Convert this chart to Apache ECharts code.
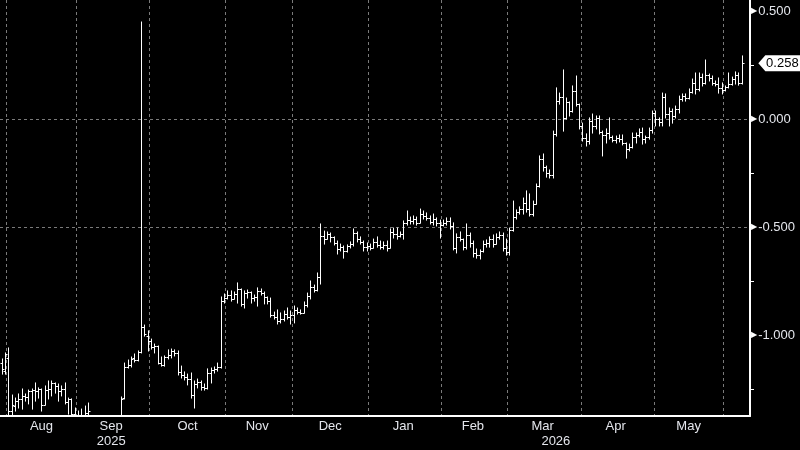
<!DOCTYPE html>
<html lang="en">
<head>
<meta charset="utf-8">
<title>OHLC spread</title>
<script src="https://cdn.jsdelivr.net/npm/echarts@6/dist/echarts.min.js"></script>
<style>
  html, body { margin: 0; padding: 0; background: #000; }
  #main { width: 800px; height: 450px; }
</style>
</head>
<body>
<div id="main"></div>
<script>
// trading-day slots (weekdays) starting here
var firstDay = '2025-07-30';
var slotCount = 226;
var monthNames = ['Jan', 'Feb', 'Mar', 'Apr', 'May', 'Jun', 'Jul', 'Aug', 'Sep', 'Oct', 'Nov', 'Dec'];
// year captions, keyed by slot index
var yearLabels = { 33: '2025', 167: '2026' };
var yMajorLabels = [-1, -0.5, 0, 0.5];

// [open, high, low, close], one per trading day
var ohlc = [
  [-1.130,-1.111,-1.181,-1.157],[-1.167,-1.083,-1.181,-1.088],[-1.106,-1.060,-1.380,-1.352],[-1.352,-1.278,-1.380,-1.324],
  [-1.329,-1.292,-1.352,-1.306],[-1.306,-1.273,-1.338,-1.296],[-1.296,-1.250,-1.343,-1.282],[-1.282,-1.273,-1.306,-1.287],
  [-1.287,-1.255,-1.319,-1.259],[-1.259,-1.250,-1.343,-1.255],[-1.255,-1.222,-1.306,-1.259],[-1.259,-1.245,-1.292,-1.250],
  [-1.250,-1.250,-1.352,-1.324],[-1.324,-1.236,-1.324,-1.255],[-1.255,-1.213,-1.296,-1.250],[-1.250,-1.213,-1.282,-1.222],
  [-1.222,-1.222,-1.269,-1.236],[-1.236,-1.227,-1.306,-1.259],[-1.259,-1.236,-1.282,-1.250],[-1.250,-1.222,-1.319,-1.310],
  [-1.310,-1.292,-1.366,-1.296],[-1.296,-1.296,-1.375,-1.366],[-1.366,-1.338,-1.380,-1.370],[-1.370,-1.352,-1.384,-1.380],
  [-1.380,-1.343,-1.384,-1.375],[-1.375,-1.329,-1.384,-1.361],[-1.361,-1.315,-1.384,-1.352],
  [-1.400,-1.392,-1.480,-1.450],[-1.450,-1.420,-1.530,-1.510],[-1.510,-1.470,-1.560,-1.490],[-1.490,-1.460,-1.550,-1.530],
  [-1.530,-1.480,-1.580,-1.500],[-1.500,-1.450,-1.540,-1.470],[-1.470,-1.430,-1.520,-1.480],[-1.480,-1.420,-1.510,-1.440],
  [-1.440,-1.400,-1.490,-1.420],
  [-1.398,-1.287,-1.410,-1.296],[-1.292,-1.130,-1.296,-1.148],[-1.148,-1.116,-1.153,-1.139],[-1.139,-1.102,-1.148,-1.111],
  [-1.106,-1.088,-1.125,-1.116],[-1.116,-1.074,-1.120,-1.079],[-1.079,0.449,-1.083,-0.963],[-0.963,-0.954,-1.005,-0.995],
  [-1.005,-0.981,-1.074,-1.028],[-1.028,-1.019,-1.065,-1.056],[-1.056,-1.042,-1.083,-1.051],[-1.051,-1.051,-1.134,-1.130],
  [-1.130,-1.102,-1.144,-1.139],[-1.139,-1.097,-1.144,-1.102],[-1.102,-1.069,-1.111,-1.093],[-1.093,-1.065,-1.106,-1.074],
  [-1.074,-1.069,-1.097,-1.083],[-1.083,-1.074,-1.185,-1.171],[-1.171,-1.144,-1.199,-1.185],[-1.185,-1.171,-1.208,-1.194],
  [-1.194,-1.181,-1.231,-1.204],[-1.204,-1.176,-1.292,-1.278],[-1.278,-1.213,-1.338,-1.227],[-1.227,-1.204,-1.245,-1.218],
  [-1.218,-1.213,-1.255,-1.241],[-1.241,-1.227,-1.255,-1.245],[-1.245,-1.157,-1.250,-1.176],[-1.176,-1.153,-1.222,-1.162],
  [-1.162,-1.148,-1.176,-1.157],[-1.157,-1.130,-1.167,-1.148],[-1.148,-0.824,-1.153,-0.843],[-0.843,-0.810,-0.852,-0.829],
  [-0.829,-0.796,-0.833,-0.815],[-0.815,-0.796,-0.843,-0.833],[-0.833,-0.801,-0.833,-0.810],[-0.810,-0.759,-0.852,-0.787],
  [-0.787,-0.787,-0.866,-0.856],[-0.856,-0.796,-0.875,-0.806],[-0.806,-0.792,-0.829,-0.801],[-0.801,-0.801,-0.852,-0.829],
  [-0.829,-0.815,-0.843,-0.824],[-0.824,-0.782,-0.866,-0.796],[-0.796,-0.787,-0.815,-0.806],[-0.806,-0.801,-0.856,-0.824],
  [-0.824,-0.824,-0.856,-0.843],[-0.843,-0.829,-0.917,-0.907],[-0.907,-0.894,-0.926,-0.917],[-0.917,-0.884,-0.949,-0.935],
  [-0.935,-0.898,-0.944,-0.926],[-0.926,-0.889,-0.935,-0.903],[-0.903,-0.875,-0.926,-0.917],[-0.917,-0.889,-0.949,-0.907],
  [-0.907,-0.866,-0.944,-0.884],[-0.884,-0.875,-0.903,-0.894],[-0.894,-0.884,-0.903,-0.898],[-0.898,-0.847,-0.898,-0.861],
  [-0.861,-0.806,-0.870,-0.819],[-0.819,-0.750,-0.833,-0.778],[-0.778,-0.769,-0.801,-0.792],[-0.792,-0.713,-0.796,-0.731],
  [-0.731,-0.486,-0.764,-0.542],[-0.542,-0.519,-0.579,-0.556],[-0.556,-0.523,-0.556,-0.532],[-0.532,-0.528,-0.569,-0.546],
  [-0.546,-0.546,-0.583,-0.574],[-0.574,-0.565,-0.625,-0.602],[-0.602,-0.579,-0.611,-0.593],[-0.593,-0.588,-0.644,-0.611],
  [-0.611,-0.583,-0.616,-0.588],[-0.588,-0.569,-0.597,-0.579],[-0.579,-0.509,-0.588,-0.528],[-0.528,-0.523,-0.569,-0.556],
  [-0.556,-0.546,-0.579,-0.569],[-0.569,-0.565,-0.611,-0.593],[-0.593,-0.574,-0.611,-0.588],[-0.588,-0.579,-0.606,-0.597],
  [-0.597,-0.556,-0.597,-0.569],[-0.569,-0.546,-0.593,-0.583],[-0.583,-0.565,-0.602,-0.593],[-0.593,-0.569,-0.602,-0.583],
  [-0.583,-0.565,-0.611,-0.597],[-0.597,-0.509,-0.597,-0.523],[-0.523,-0.505,-0.551,-0.532],[-0.532,-0.505,-0.556,-0.542],
  [-0.542,-0.523,-0.546,-0.532],[-0.532,-0.472,-0.556,-0.481],[-0.481,-0.426,-0.491,-0.468],[-0.468,-0.454,-0.486,-0.472],
  [-0.472,-0.449,-0.486,-0.463],[-0.463,-0.454,-0.491,-0.481],[-0.481,-0.417,-0.481,-0.440],[-0.440,-0.426,-0.463,-0.449],
  [-0.449,-0.435,-0.468,-0.458],[-0.458,-0.449,-0.486,-0.477],[-0.477,-0.440,-0.491,-0.463],[-0.463,-0.458,-0.495,-0.481],
  [-0.481,-0.468,-0.551,-0.491],[-0.491,-0.468,-0.495,-0.481],[-0.481,-0.458,-0.491,-0.472],[-0.472,-0.458,-0.509,-0.495],
  [-0.495,-0.481,-0.606,-0.597],[-0.597,-0.532,-0.620,-0.546],[-0.546,-0.523,-0.565,-0.556],[-0.556,-0.556,-0.606,-0.593],
  [-0.593,-0.486,-0.602,-0.537],[-0.537,-0.528,-0.593,-0.574],[-0.574,-0.565,-0.639,-0.620],[-0.620,-0.602,-0.644,-0.630],
  [-0.630,-0.606,-0.648,-0.611],[-0.611,-0.565,-0.616,-0.579],[-0.579,-0.560,-0.593,-0.574],[-0.574,-0.546,-0.593,-0.556],
  [-0.556,-0.537,-0.593,-0.579],[-0.579,-0.532,-0.579,-0.546],[-0.546,-0.523,-0.556,-0.537],[-0.537,-0.528,-0.611,-0.597],
  [-0.597,-0.556,-0.630,-0.616],[-0.616,-0.505,-0.630,-0.514],[-0.514,-0.380,-0.519,-0.454],[-0.454,-0.421,-0.463,-0.431],
  [-0.431,-0.407,-0.440,-0.417],[-0.417,-0.366,-0.440,-0.389],[-0.389,-0.333,-0.431,-0.417],[-0.417,-0.347,-0.449,-0.440],
  [-0.440,-0.380,-0.449,-0.394],[-0.394,-0.301,-0.394,-0.310],[-0.310,-0.171,-0.315,-0.185],[-0.185,-0.162,-0.241,-0.222],
  [-0.222,-0.218,-0.269,-0.250],[-0.250,-0.236,-0.273,-0.259],[-0.259,-0.056,-0.273,-0.069],[-0.069,0.144,-0.079,0.083],
  [0.083,0.120,0.069,0.102],[0.102,0.227,-0.056,0.005],[0.005,0.097,0.000,0.079],[0.079,0.079,0.014,0.037],
  [0.037,0.153,0.032,0.130],[0.130,0.199,0.060,0.069],[0.069,0.069,-0.046,-0.032],[-0.032,-0.019,-0.102,-0.088],
  [-0.088,-0.069,-0.125,-0.102],[-0.102,0.005,-0.116,-0.009],[-0.009,0.023,-0.065,-0.032],[-0.032,0.014,-0.046,0.005],
  [0.005,0.014,-0.069,-0.060],[-0.060,-0.056,-0.171,-0.074],[-0.074,-0.046,-0.111,-0.065],[-0.065,0.005,-0.093,-0.083],
  [-0.083,-0.079,-0.106,-0.097],[-0.097,-0.079,-0.111,-0.088],[-0.088,-0.074,-0.106,-0.093],[-0.093,-0.074,-0.120,-0.111],
  [-0.111,-0.111,-0.181,-0.139],[-0.139,-0.116,-0.148,-0.130],[-0.130,-0.065,-0.134,-0.083],[-0.083,-0.065,-0.111,-0.074],
  [-0.074,-0.046,-0.083,-0.060],[-0.060,-0.042,-0.116,-0.093],[-0.093,-0.079,-0.111,-0.083],[-0.083,-0.042,-0.093,-0.051],
  [-0.051,0.037,-0.065,0.028],[0.028,0.037,-0.032,0.000],[0.000,0.005,-0.032,-0.014],[-0.014,0.120,-0.032,0.102],
  [0.102,0.116,0.005,0.023],[0.023,0.051,-0.032,0.037],[0.037,0.046,-0.019,0.014],[0.014,0.060,0.005,0.046],
  [0.046,0.106,0.028,0.093],[0.093,0.116,0.083,0.106],[0.106,0.116,0.083,0.097],[0.097,0.139,0.093,0.125],
  [0.125,0.185,0.120,0.167],[0.167,0.213,0.116,0.139],[0.139,0.213,0.130,0.194],[0.194,0.208,0.153,0.167],
  [0.167,0.273,0.162,0.204],[0.204,0.208,0.176,0.190],[0.190,0.199,0.157,0.167],[0.167,0.176,0.153,0.162],
  [0.162,0.190,0.120,0.144],[0.144,0.167,0.116,0.134],[0.134,0.153,0.130,0.148],[0.148,0.213,0.144,0.162],
  [0.162,0.194,0.157,0.185],[0.185,0.218,0.162,0.204],[0.204,0.213,0.157,0.167],[0.167,0.292,0.162,0.258]
];

var dates = [];
var d = new Date(firstDay + 'T00:00:00Z');
while (dates.length < slotCount) {
    var wd = d.getUTCDay();
    if (wd !== 0 && wd !== 6) dates.push(d.toISOString().slice(0, 10));
    d.setUTCDate(d.getUTCDate() + 1);
}

// first trading day of each month -> tick + grid line
var monthStart = {};
var monthRuns = [];
var runStart = 0;
for (var i = 1; i <= dates.length; i++) {
    if (i === dates.length || dates[i].slice(0, 7) !== dates[i - 1].slice(0, 7)) {
        monthRuns.push([runStart, i - 1]);
        if (i < dates.length) monthStart[i] = true;
        runStart = i;
    }
}
// month name sits in the middle of its run (skip short runs)
var monthLabelAt = {};
monthRuns.forEach(function (r) {
    if (r[1] - r[0] >= 10) monthLabelAt[Math.floor((r[0] + r[1]) / 2)] = true;
});
var yearStart = dates.findIndex(function (s) { return s.slice(0, 4) === '2026'; });

var seriesData = ohlc.map(function (b, i) { return [i, b[0], b[1], b[2], b[3]]; });
var lastClose = ohlc[ohlc.length - 1][3];

var font = 'Liberation Sans';
var textColor = '#e4e6ec';

function renderItem(params, api) {
    var idx = api.value(0);
    var x = Math.round(api.coord([idx, 0])[0]) + 0.5;
    var yo = Math.round(api.coord([idx, api.value(1)])[1]) + 0.5;
    var yh = api.coord([idx, api.value(2)])[1];
    var yl = api.coord([idx, api.value(3)])[1];
    var yc = Math.round(api.coord([idx, api.value(4)])[1]) + 0.5;
    var st = { stroke: '#ffffff', lineWidth: 1 };
    return {
        type: 'group',
        children: [
            { type: 'line', shape: { x1: x, y1: yh - 0.5, x2: x, y2: yl + 0.5 }, style: st },
            { type: 'line', shape: { x1: x - 2, y1: yo, x2: x, y2: yo }, style: st },
            { type: 'line', shape: { x1: x, y1: yc, x2: x + 2, y2: yc }, style: st }
        ]
    };
}

var chart = echarts.init(document.getElementById('main'));
var option = {
    backgroundColor: '#000000',
    animation: false,
    grid: { left: 0, right: 50, top: 0, bottom: 34, outerBoundsMode: 'none' },
    xAxis: [
        {
            type: 'category',
            data: dates,
            boundaryGap: true,
            axisLine: { onZero: false, lineStyle: { color: '#ffffff', width: 2 } },
            axisTick: {
                interval: function (i) { return !!monthStart[i]; },
                length: 5,
                lineStyle: { color: '#ffffff', width: 1 }
            },
            axisLabel: {
                interval: function (i) { return !!monthLabelAt[i]; },
                formatter: function (v) { return monthNames[+v.slice(5, 7) - 1]; },
                color: textColor,
                fontFamily: font,
                fontSize: 13,
                margin: 4
            },
            splitLine: {
                show: true,
                interval: function (i) { return !!monthStart[i]; },
                lineStyle: { color: '#7a7a7a', type: [3, 3], width: 1 }
            }
        },
        {
            type: 'category',
            data: dates,
            gridIndex: 0,
            position: 'bottom',
            offset: 16,
            boundaryGap: true,
            axisLine: { show: false, onZero: false },
            axisTick: {
                interval: function (i) { return i === yearStart; },
                length: 18,
                lineStyle: { color: '#8a8a8a', width: 1 }
            },
            axisLabel: {
                interval: function (i) { return yearLabels[i] !== undefined; },
                formatter: function (v, i) { return yearLabels[i] || ''; },
                color: textColor,
                fontFamily: font,
                fontSize: 13,
                margin: 3
            },
            splitLine: { show: false }
        }
    ],
    yAxis: {
        type: 'value',
        position: 'right',
        min: -1.375,
        max: 0.551,
        splitNumber: 4,
        axisLine: { show: true, lineStyle: { color: '#ffffff', width: 2 } },
        axisTick: {
            show: true,
            customValues: yMajorLabels,
            length: 3,
            lineStyle: { color: '#ffffff', width: 1 }
        },
        minorTick: {
            show: true,
            splitNumber: 2,
            length: 4,
            lineStyle: { color: '#ffffff', width: 1 }
        },
        axisLabel: {
            customValues: yMajorLabels,
            margin: 1,
            formatter: function (v) { return '{t|\u25B6}{v|' + v.toFixed(3) + '}'; },
            rich: {
                t: { fontSize: 8, color: '#ffffff', fontFamily: 'DejaVu Sans', padding: [0, 1, 0, 0] },
                v: { fontSize: 13, color: textColor, fontFamily: font }
            }
        },
        splitLine: {
            show: true,
            showMinLine: false,
            showMaxLine: false,
            lineStyle: { color: '#7a7a7a', type: [3, 3], width: 1 }
        }
    },
    series: [
        {
            type: 'custom',
            renderItem: renderItem,
            clip: true,
            encode: { x: 0, y: [1, 2, 3, 4] },
            data: seriesData
        }
    ]
};
chart.setOption(option);

// last value tag on the price axis
var tagY = chart.convertToPixel({ yAxisIndex: 0 }, lastClose);
var axisX = chart.convertToPixel({ xAxisIndex: 0 }, dates[dates.length - 1]) + 8;
chart.setOption({
    graphic: [
        {
            type: 'polygon',
            shape: { points: [[axisX + 2, tagY], [axisX + 9, tagY - 8], [800, tagY - 8], [800, tagY + 8], [axisX + 9, tagY + 8]] },
            style: { fill: '#ffffff' }
        },
        {
            type: 'text',
            x: axisX + 26,
            y: tagY,
            style: { text: lastClose.toFixed(3), fill: '#000000', font: '13px ' + font, align: 'center', verticalAlign: 'middle' }
        }
    ]
});
</script>
</body>
</html>
